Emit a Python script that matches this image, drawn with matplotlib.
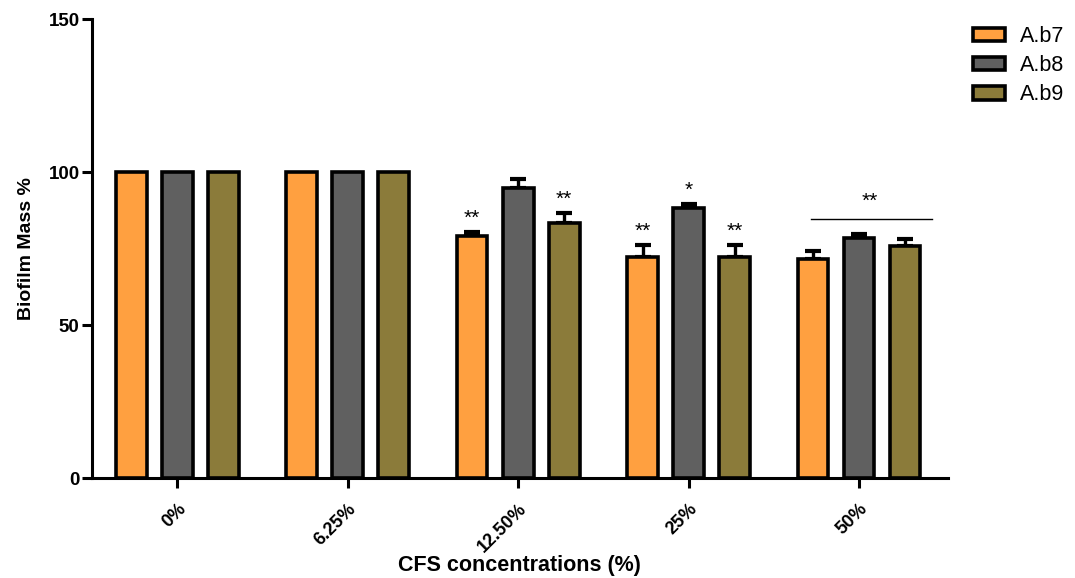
import matplotlib
matplotlib.use("Agg")
import matplotlib.pyplot as plt
import matplotlib.patches as mpatches
import numpy as np

plt.rcParams["font.family"] = ["Liberation Sans", "DejaVu Sans"]

# ── Data ─────────────────────────────────────────────────────────────────────
concentrations = ["0%", "6.25%", "12.50%", "25%", "50%"]
strains = ["A.b7", "A.b8", "A.b9"]
colors = ["#FFA040", "#606060", "#8B7B3A"]

ab7 = [100, 100, 79.0, 72.2, 71.6]
ab8 = [100, 100, 94.8, 88.2, 78.4]
ab9 = [100, 100, 83.3, 72.2, 75.8]

ab7_err = [0, 0, 1.3, 3.9, 2.6]
ab8_err = [0, 0, 2.9, 1.3, 1.3]
ab9_err = [0, 0, 3.3, 3.9, 2.3]

# significance marks per (group, strain)
marks = {(2, 0): "**", (2, 2): "**", (3, 0): "**", (3, 1): "*", (3, 2): "**"}
group_mark = (4, "**", 84.8)   # bracket over the whole 50% group

series = [ab7, ab8, ab9]
errors = [ab7_err, ab8_err, ab9_err]

# ── Plot ─────────────────────────────────────────────────────────────────────
fig = plt.figure(figsize=(10.75, 5.78), dpi=100)
ax = fig.add_axes([0.0856, 0.173, 0.796, 0.794])

x = np.arange(len(concentrations))
width = 0.18
offsets = [-0.27, 0.0, 0.27]

for vals, errs, col, off, name in zip(series, errors, colors, offsets, strains):
    ax.bar(x + off, vals, width, color=col, edgecolor="black",
           linewidth=2.6, label=name, zorder=3)
    yerr = np.array([np.zeros(len(errs)), errs])
    mask = np.array(errs) > 0
    ax.errorbar((x + off)[mask], np.array(vals)[mask], yerr=yerr[:, mask],
                fmt="none", ecolor="black", elinewidth=2.4, capsize=6,
                capthick=3, zorder=2)

for (g, s), txt in marks.items():
    top = series[s][g] + errors[s][g]
    ax.text(x[g] + offsets[s], top + 1.5, txt, ha="center", va="bottom",
            fontsize=15, zorder=4)

g, txt, ybar = group_mark
ax.plot([x[g] - 0.28, x[g] + 0.43], [ybar, ybar], color="black", lw=1.0)
ax.text(x[g] + 0.06, ybar + 2.5, txt, ha="center", va="bottom", fontsize=15)

ax.set_xlim(-0.5, 4.52)
ax.set_ylim(0, 150)
ax.set_yticks([0, 50, 100, 150])
ax.set_xticks(x)
ax.set_xticklabels(concentrations, rotation=45, ha="right",
                   rotation_mode="anchor", fontweight="bold", fontsize=13)
for lbl in ax.get_yticklabels():
    lbl.set_fontweight("bold")
    lbl.set_fontsize(13.5)

for side in ("top", "right"):
    ax.spines[side].set_visible(False)
for side in ("left", "bottom"):
    ax.spines[side].set_linewidth(2.2)
ax.tick_params(axis="both", direction="out", length=7, width=2.2, pad=2)
ax.tick_params(axis="x", pad=9)

ax.set_ylabel("Biofilm Mass %", fontweight="bold", fontsize=14, labelpad=10)
ax.set_xlabel("CFS concentrations (%)", fontweight="bold", fontsize=15.5)
ax.xaxis.set_label_coords(0.5, -0.168)

handles = [mpatches.Patch(facecolor=c, edgecolor="black", linewidth=2.6, label=n)
           for c, n in zip(colors, strains)]
fig.legend(handles=handles, loc="upper left",
           bbox_to_anchor=(973 / 1075, 1 - 26 / 578),
           frameon=False, fontsize=15.5, handlelength=1.5, handleheight=0.6,
           labelspacing=0.38, handletextpad=0.7, borderpad=0, borderaxespad=0)

fig.savefig("out.png", dpi=100)
plt.close(fig)
